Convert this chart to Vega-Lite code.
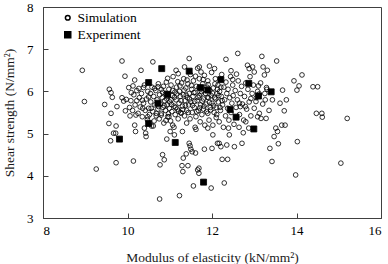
{
  "$schema": "https://vega.github.io/schema/vega-lite/v6.json",
  "width": 338,
  "height": 211,
  "autosize": {"type": "none"},
  "padding": {"left": 43, "top": 7, "right": 7, "bottom": 46},
  "background": "white",
  "config": {
    "view": {"stroke": "#404040", "strokeWidth": 1},
    "font": "Times New Roman, Liberation Serif, serif",
    "axis": {
      "labelFont": "Times New Roman, Liberation Serif, serif",
      "titleFont": "Times New Roman, Liberation Serif, serif",
      "labelFontSize": 13,
      "titleFontSize": 13.5,
      "titleFontWeight": "normal",
      "labelColor": "#000",
      "titleColor": "#1a1a1a",
      "domainColor": "#404040",
      "tickColor": "#404040",
      "grid": false,
      "tickSize": -5
    },
    "legend": {
      "labelFont": "Times New Roman, Liberation Serif, serif",
      "labelFontSize": 13.5,
      "labelColor": "#000"
    }
  },
  "data": {
    "values": [
      {"moe": 8.93, "shear": 6.50, "type": "Simulation"},
      {"moe": 8.98, "shear": 5.76, "type": "Simulation"},
      {"moe": 9.26, "shear": 4.16, "type": "Simulation"},
      {"moe": 9.46, "shear": 5.69, "type": "Simulation"},
      {"moe": 9.56, "shear": 5.24, "type": "Simulation"},
      {"moe": 9.57, "shear": 6.05, "type": "Simulation"},
      {"moe": 9.61, "shear": 5.97, "type": "Simulation"},
      {"moe": 9.64, "shear": 5.86, "type": "Simulation"},
      {"moe": 9.60, "shear": 4.83, "type": "Simulation"},
      {"moe": 9.61, "shear": 5.48, "type": "Simulation"},
      {"moe": 9.67, "shear": 5.01, "type": "Simulation"},
      {"moe": 9.72, "shear": 5.01, "type": "Simulation"},
      {"moe": 9.73, "shear": 5.18, "type": "Simulation"},
      {"moe": 9.73, "shear": 4.31, "type": "Simulation"},
      {"moe": 9.75, "shear": 5.64, "type": "Simulation"},
      {"moe": 9.87, "shear": 6.72, "type": "Simulation"},
      {"moe": 9.87, "shear": 5.85, "type": "Simulation"},
      {"moe": 9.91, "shear": 5.77, "type": "Simulation"},
      {"moe": 9.95, "shear": 5.54, "type": "Simulation"},
      {"moe": 9.94, "shear": 6.36, "type": "Simulation"},
      {"moe": 9.97, "shear": 5.81, "type": "Simulation"},
      {"moe": 10.03, "shear": 6.09, "type": "Simulation"},
      {"moe": 10.06, "shear": 5.42, "type": "Simulation"},
      {"moe": 10.09, "shear": 5.97, "type": "Simulation"},
      {"moe": 10.13, "shear": 6.13, "type": "Simulation"},
      {"moe": 10.14, "shear": 4.35, "type": "Simulation"},
      {"moe": 10.17, "shear": 5.20, "type": "Simulation"},
      {"moe": 10.19, "shear": 5.05, "type": "Simulation"},
      {"moe": 10.17, "shear": 6.27, "type": "Simulation"},
      {"moe": 10.20, "shear": 5.44, "type": "Simulation"},
      {"moe": 10.22, "shear": 5.78, "type": "Simulation"},
      {"moe": 10.27, "shear": 6.07, "type": "Simulation"},
      {"moe": 10.32, "shear": 6.50, "type": "Simulation"},
      {"moe": 10.35, "shear": 5.79, "type": "Simulation"},
      {"moe": 10.36, "shear": 5.60, "type": "Simulation"},
      {"moe": 10.38, "shear": 6.09, "type": "Simulation"},
      {"moe": 10.40, "shear": 5.13, "type": "Simulation"},
      {"moe": 10.43, "shear": 5.01, "type": "Simulation"},
      {"moe": 10.44, "shear": 4.93, "type": "Simulation"},
      {"moe": 10.48, "shear": 5.40, "type": "Simulation"},
      {"moe": 10.50, "shear": 5.87, "type": "Simulation"},
      {"moe": 10.56, "shear": 5.60, "type": "Simulation"},
      {"moe": 10.60, "shear": 6.70, "type": "Simulation"},
      {"moe": 10.61, "shear": 5.18, "type": "Simulation"},
      {"moe": 10.64, "shear": 6.07, "type": "Simulation"},
      {"moe": 10.68, "shear": 5.48, "type": "Simulation"},
      {"moe": 10.72, "shear": 6.11, "type": "Simulation"},
      {"moe": 10.74, "shear": 5.64, "type": "Simulation"},
      {"moe": 10.76, "shear": 3.45, "type": "Simulation"},
      {"moe": 10.77, "shear": 4.26, "type": "Simulation"},
      {"moe": 10.80, "shear": 5.44, "type": "Simulation"},
      {"moe": 10.83, "shear": 4.50, "type": "Simulation"},
      {"moe": 10.87, "shear": 4.38, "type": "Simulation"},
      {"moe": 10.91, "shear": 5.31, "type": "Simulation"},
      {"moe": 10.93, "shear": 4.87, "type": "Simulation"},
      {"moe": 10.95, "shear": 6.31, "type": "Simulation"},
      {"moe": 10.98, "shear": 5.40, "type": "Simulation"},
      {"moe": 11.01, "shear": 5.05, "type": "Simulation"},
      {"moe": 11.03, "shear": 5.80, "type": "Simulation"},
      {"moe": 11.07, "shear": 5.20, "type": "Simulation"},
      {"moe": 11.11, "shear": 4.97, "type": "Simulation"},
      {"moe": 11.15, "shear": 6.50, "type": "Simulation"},
      {"moe": 11.19, "shear": 6.23, "type": "Simulation"},
      {"moe": 11.23, "shear": 3.53, "type": "Simulation"},
      {"moe": 11.27, "shear": 5.48, "type": "Simulation"},
      {"moe": 11.29, "shear": 4.24, "type": "Simulation"},
      {"moe": 11.31, "shear": 4.10, "type": "Simulation"},
      {"moe": 11.32, "shear": 4.42, "type": "Simulation"},
      {"moe": 11.35, "shear": 6.58, "type": "Simulation"},
      {"moe": 11.39, "shear": 4.52, "type": "Simulation"},
      {"moe": 11.43, "shear": 4.24, "type": "Simulation"},
      {"moe": 11.46, "shear": 6.78, "type": "Simulation"},
      {"moe": 11.46, "shear": 4.77, "type": "Simulation"},
      {"moe": 11.48, "shear": 4.71, "type": "Simulation"},
      {"moe": 11.50, "shear": 4.63, "type": "Simulation"},
      {"moe": 11.53, "shear": 4.57, "type": "Simulation"},
      {"moe": 11.56, "shear": 3.76, "type": "Simulation"},
      {"moe": 11.61, "shear": 4.54, "type": "Simulation"},
      {"moe": 11.62, "shear": 5.10, "type": "Simulation"},
      {"moe": 11.66, "shear": 4.14, "type": "Simulation"},
      {"moe": 11.69, "shear": 4.06, "type": "Simulation"},
      {"moe": 11.69, "shear": 4.18, "type": "Simulation"},
      {"moe": 11.70, "shear": 6.58, "type": "Simulation"},
      {"moe": 11.74, "shear": 6.46, "type": "Simulation"},
      {"moe": 11.82, "shear": 4.63, "type": "Simulation"},
      {"moe": 11.90, "shear": 5.13, "type": "Simulation"},
      {"moe": 11.94, "shear": 6.60, "type": "Simulation"},
      {"moe": 11.98, "shear": 3.71, "type": "Simulation"},
      {"moe": 12.00, "shear": 4.65, "type": "Simulation"},
      {"moe": 12.02, "shear": 4.97, "type": "Simulation"},
      {"moe": 12.06, "shear": 6.54, "type": "Simulation"},
      {"moe": 12.13, "shear": 4.77, "type": "Simulation"},
      {"moe": 12.17, "shear": 4.77, "type": "Simulation"},
      {"moe": 12.21, "shear": 4.69, "type": "Simulation"},
      {"moe": 12.24, "shear": 4.39, "type": "Simulation"},
      {"moe": 12.29, "shear": 3.83, "type": "Simulation"},
      {"moe": 12.33, "shear": 6.76, "type": "Simulation"},
      {"moe": 12.35, "shear": 4.73, "type": "Simulation"},
      {"moe": 12.37, "shear": 4.39, "type": "Simulation"},
      {"moe": 12.39, "shear": 5.13, "type": "Simulation"},
      {"moe": 12.41, "shear": 4.97, "type": "Simulation"},
      {"moe": 12.45, "shear": 6.49, "type": "Simulation"},
      {"moe": 12.49, "shear": 6.28, "type": "Simulation"},
      {"moe": 12.53, "shear": 4.69, "type": "Simulation"},
      {"moe": 12.58, "shear": 6.41, "type": "Simulation"},
      {"moe": 12.61, "shear": 6.90, "type": "Simulation"},
      {"moe": 12.64, "shear": 5.15, "type": "Simulation"},
      {"moe": 12.65, "shear": 5.72, "type": "Simulation"},
      {"moe": 12.67, "shear": 5.64, "type": "Simulation"},
      {"moe": 12.71, "shear": 4.77, "type": "Simulation"},
      {"moe": 12.74, "shear": 5.02, "type": "Simulation"},
      {"moe": 12.79, "shear": 5.64, "type": "Simulation"},
      {"moe": 12.80, "shear": 5.28, "type": "Simulation"},
      {"moe": 12.84, "shear": 6.62, "type": "Simulation"},
      {"moe": 12.87, "shear": 5.13, "type": "Simulation"},
      {"moe": 12.88, "shear": 6.54, "type": "Simulation"},
      {"moe": 12.92, "shear": 5.83, "type": "Simulation"},
      {"moe": 12.96, "shear": 6.58, "type": "Simulation"},
      {"moe": 13.00, "shear": 6.46, "type": "Simulation"},
      {"moe": 13.04, "shear": 5.76, "type": "Simulation"},
      {"moe": 13.08, "shear": 5.40, "type": "Simulation"},
      {"moe": 13.10, "shear": 6.13, "type": "Simulation"},
      {"moe": 13.12, "shear": 5.94, "type": "Simulation"},
      {"moe": 13.16, "shear": 5.36, "type": "Simulation"},
      {"moe": 13.18, "shear": 6.83, "type": "Simulation"},
      {"moe": 13.21, "shear": 6.58, "type": "Simulation"},
      {"moe": 13.24, "shear": 6.39, "type": "Simulation"},
      {"moe": 13.26, "shear": 5.80, "type": "Simulation"},
      {"moe": 13.28, "shear": 5.36, "type": "Simulation"},
      {"moe": 13.29, "shear": 6.09, "type": "Simulation"},
      {"moe": 13.31, "shear": 6.50, "type": "Simulation"},
      {"moe": 13.37, "shear": 4.65, "type": "Simulation"},
      {"moe": 13.42, "shear": 4.34, "type": "Simulation"},
      {"moe": 13.43, "shear": 5.80, "type": "Simulation"},
      {"moe": 13.47, "shear": 4.93, "type": "Simulation"},
      {"moe": 13.51, "shear": 5.13, "type": "Simulation"},
      {"moe": 13.53, "shear": 6.72, "type": "Simulation"},
      {"moe": 13.55, "shear": 5.05, "type": "Simulation"},
      {"moe": 13.57, "shear": 4.76, "type": "Simulation"},
      {"moe": 13.61, "shear": 5.72, "type": "Simulation"},
      {"moe": 13.65, "shear": 5.20, "type": "Simulation"},
      {"moe": 13.67, "shear": 6.03, "type": "Simulation"},
      {"moe": 13.71, "shear": 5.54, "type": "Simulation"},
      {"moe": 13.73, "shear": 5.20, "type": "Simulation"},
      {"moe": 13.76, "shear": 5.80, "type": "Simulation"},
      {"moe": 13.94, "shear": 6.25, "type": "Simulation"},
      {"moe": 13.98, "shear": 4.02, "type": "Simulation"},
      {"moe": 14.01, "shear": 6.03, "type": "Simulation"},
      {"moe": 14.02, "shear": 4.81, "type": "Simulation"},
      {"moe": 14.06, "shear": 6.13, "type": "Simulation"},
      {"moe": 14.13, "shear": 6.39, "type": "Simulation"},
      {"moe": 14.39, "shear": 6.11, "type": "Simulation"},
      {"moe": 14.50, "shear": 6.11, "type": "Simulation"},
      {"moe": 14.47, "shear": 5.48, "type": "Simulation"},
      {"moe": 14.60, "shear": 5.48, "type": "Simulation"},
      {"moe": 14.61, "shear": 5.39, "type": "Simulation"},
      {"moe": 15.05, "shear": 4.30, "type": "Simulation"},
      {"moe": 15.20, "shear": 5.36, "type": "Simulation"},
      {"moe": 10.05, "shear": 5.62, "type": "Simulation"},
      {"moe": 10.08, "shear": 5.78, "type": "Simulation"},
      {"moe": 10.12, "shear": 5.55, "type": "Simulation"},
      {"moe": 10.15, "shear": 5.92, "type": "Simulation"},
      {"moe": 10.18, "shear": 5.68, "type": "Simulation"},
      {"moe": 10.22, "shear": 6.02, "type": "Simulation"},
      {"moe": 10.25, "shear": 5.48, "type": "Simulation"},
      {"moe": 10.28, "shear": 5.85, "type": "Simulation"},
      {"moe": 10.30, "shear": 5.63, "type": "Simulation"},
      {"moe": 10.33, "shear": 5.95, "type": "Simulation"},
      {"moe": 10.35, "shear": 5.40, "type": "Simulation"},
      {"moe": 10.38, "shear": 5.72, "type": "Simulation"},
      {"moe": 10.40, "shear": 6.15, "type": "Simulation"},
      {"moe": 10.42, "shear": 5.55, "type": "Simulation"},
      {"moe": 10.45, "shear": 5.82, "type": "Simulation"},
      {"moe": 10.47, "shear": 5.33, "type": "Simulation"},
      {"moe": 10.48, "shear": 6.00, "type": "Simulation"},
      {"moe": 10.50, "shear": 5.60, "type": "Simulation"},
      {"moe": 10.52, "shear": 5.45, "type": "Simulation"},
      {"moe": 10.54, "shear": 5.95, "type": "Simulation"},
      {"moe": 10.55, "shear": 5.75, "type": "Simulation"},
      {"moe": 10.57, "shear": 5.18, "type": "Simulation"},
      {"moe": 10.58, "shear": 6.10, "type": "Simulation"},
      {"moe": 10.60, "shear": 5.52, "type": "Simulation"},
      {"moe": 10.62, "shear": 5.88, "type": "Simulation"},
      {"moe": 10.63, "shear": 5.30, "type": "Simulation"},
      {"moe": 10.65, "shear": 5.68, "type": "Simulation"},
      {"moe": 10.67, "shear": 6.02, "type": "Simulation"},
      {"moe": 10.68, "shear": 5.42, "type": "Simulation"},
      {"moe": 10.70, "shear": 5.80, "type": "Simulation"},
      {"moe": 10.72, "shear": 5.58, "type": "Simulation"},
      {"moe": 10.73, "shear": 6.18, "type": "Simulation"},
      {"moe": 10.75, "shear": 5.35, "type": "Simulation"},
      {"moe": 10.76, "shear": 5.92, "type": "Simulation"},
      {"moe": 10.78, "shear": 5.70, "type": "Simulation"},
      {"moe": 10.80, "shear": 6.05, "type": "Simulation"},
      {"moe": 10.80, "shear": 5.48, "type": "Simulation"},
      {"moe": 10.82, "shear": 5.85, "type": "Simulation"},
      {"moe": 10.84, "shear": 5.62, "type": "Simulation"},
      {"moe": 10.85, "shear": 6.12, "type": "Simulation"},
      {"moe": 10.86, "shear": 5.25, "type": "Simulation"},
      {"moe": 10.88, "shear": 5.78, "type": "Simulation"},
      {"moe": 10.90, "shear": 5.95, "type": "Simulation"},
      {"moe": 10.90, "shear": 5.55, "type": "Simulation"},
      {"moe": 10.92, "shear": 6.22, "type": "Simulation"},
      {"moe": 10.94, "shear": 5.68, "type": "Simulation"},
      {"moe": 10.95, "shear": 5.40, "type": "Simulation"},
      {"moe": 10.96, "shear": 5.88, "type": "Simulation"},
      {"moe": 10.98, "shear": 6.05, "type": "Simulation"},
      {"moe": 10.99, "shear": 5.60, "type": "Simulation"},
      {"moe": 11.00, "shear": 5.75, "type": "Simulation"},
      {"moe": 11.02, "shear": 5.30, "type": "Simulation"},
      {"moe": 11.03, "shear": 6.15, "type": "Simulation"},
      {"moe": 11.05, "shear": 5.52, "type": "Simulation"},
      {"moe": 11.06, "shear": 5.90, "type": "Simulation"},
      {"moe": 11.08, "shear": 6.35, "type": "Simulation"},
      {"moe": 11.10, "shear": 5.65, "type": "Simulation"},
      {"moe": 11.10, "shear": 5.15, "type": "Simulation"},
      {"moe": 11.12, "shear": 5.98, "type": "Simulation"},
      {"moe": 11.13, "shear": 5.45, "type": "Simulation"},
      {"moe": 11.15, "shear": 5.80, "type": "Simulation"},
      {"moe": 11.16, "shear": 6.10, "type": "Simulation"},
      {"moe": 11.18, "shear": 5.58, "type": "Simulation"},
      {"moe": 11.20, "shear": 6.42, "type": "Simulation"},
      {"moe": 11.20, "shear": 5.35, "type": "Simulation"},
      {"moe": 11.22, "shear": 5.72, "type": "Simulation"},
      {"moe": 11.23, "shear": 6.00, "type": "Simulation"},
      {"moe": 11.25, "shear": 5.88, "type": "Simulation"},
      {"moe": 11.26, "shear": 5.50, "type": "Simulation"},
      {"moe": 11.28, "shear": 6.20, "type": "Simulation"},
      {"moe": 11.30, "shear": 5.65, "type": "Simulation"},
      {"moe": 11.30, "shear": 5.05, "type": "Simulation"},
      {"moe": 11.32, "shear": 5.92, "type": "Simulation"},
      {"moe": 11.33, "shear": 6.30, "type": "Simulation"},
      {"moe": 11.35, "shear": 5.42, "type": "Simulation"},
      {"moe": 11.36, "shear": 5.78, "type": "Simulation"},
      {"moe": 11.38, "shear": 6.08, "type": "Simulation"},
      {"moe": 11.40, "shear": 5.55, "type": "Simulation"},
      {"moe": 11.40, "shear": 5.25, "type": "Simulation"},
      {"moe": 11.42, "shear": 5.85, "type": "Simulation"},
      {"moe": 11.43, "shear": 6.18, "type": "Simulation"},
      {"moe": 11.45, "shear": 5.68, "type": "Simulation"},
      {"moe": 11.46, "shear": 5.95, "type": "Simulation"},
      {"moe": 11.48, "shear": 5.35, "type": "Simulation"},
      {"moe": 11.49, "shear": 6.40, "type": "Simulation"},
      {"moe": 11.50, "shear": 5.75, "type": "Simulation"},
      {"moe": 11.52, "shear": 6.05, "type": "Simulation"},
      {"moe": 11.53, "shear": 5.50, "type": "Simulation"},
      {"moe": 11.55, "shear": 5.88, "type": "Simulation"},
      {"moe": 11.56, "shear": 6.25, "type": "Simulation"},
      {"moe": 11.58, "shear": 5.62, "type": "Simulation"},
      {"moe": 11.60, "shear": 5.15, "type": "Simulation"},
      {"moe": 11.60, "shear": 5.98, "type": "Simulation"},
      {"moe": 11.62, "shear": 5.40, "type": "Simulation"},
      {"moe": 11.63, "shear": 6.12, "type": "Simulation"},
      {"moe": 11.65, "shear": 5.78, "type": "Simulation"},
      {"moe": 11.66, "shear": 6.55, "type": "Simulation"},
      {"moe": 11.68, "shear": 5.55, "type": "Simulation"},
      {"moe": 11.70, "shear": 5.90, "type": "Simulation"},
      {"moe": 11.70, "shear": 6.30, "type": "Simulation"},
      {"moe": 11.72, "shear": 5.28, "type": "Simulation"},
      {"moe": 11.73, "shear": 5.68, "type": "Simulation"},
      {"moe": 11.75, "shear": 6.00, "type": "Simulation"},
      {"moe": 11.76, "shear": 5.45, "type": "Simulation"},
      {"moe": 11.78, "shear": 6.18, "type": "Simulation"},
      {"moe": 11.80, "shear": 5.82, "type": "Simulation"},
      {"moe": 11.80, "shear": 5.58, "type": "Simulation"},
      {"moe": 11.82, "shear": 6.38, "type": "Simulation"},
      {"moe": 11.83, "shear": 5.20, "type": "Simulation"},
      {"moe": 11.85, "shear": 5.95, "type": "Simulation"},
      {"moe": 11.86, "shear": 5.70, "type": "Simulation"},
      {"moe": 11.88, "shear": 6.10, "type": "Simulation"},
      {"moe": 11.90, "shear": 5.48, "type": "Simulation"},
      {"moe": 11.90, "shear": 6.25, "type": "Simulation"},
      {"moe": 11.92, "shear": 5.85, "type": "Simulation"},
      {"moe": 11.93, "shear": 5.32, "type": "Simulation"},
      {"moe": 11.95, "shear": 6.02, "type": "Simulation"},
      {"moe": 11.96, "shear": 5.62, "type": "Simulation"},
      {"moe": 11.98, "shear": 5.90, "type": "Simulation"},
      {"moe": 11.99, "shear": 6.45, "type": "Simulation"},
      {"moe": 12.00, "shear": 5.72, "type": "Simulation"},
      {"moe": 12.02, "shear": 5.20, "type": "Simulation"},
      {"moe": 12.03, "shear": 6.08, "type": "Simulation"},
      {"moe": 12.05, "shear": 5.50, "type": "Simulation"},
      {"moe": 12.06, "shear": 5.85, "type": "Simulation"},
      {"moe": 12.08, "shear": 6.30, "type": "Simulation"},
      {"moe": 12.10, "shear": 5.62, "type": "Simulation"},
      {"moe": 12.10, "shear": 5.38, "type": "Simulation"},
      {"moe": 12.12, "shear": 5.95, "type": "Simulation"},
      {"moe": 12.14, "shear": 6.15, "type": "Simulation"},
      {"moe": 12.15, "shear": 5.75, "type": "Simulation"},
      {"moe": 12.17, "shear": 5.28, "type": "Simulation"},
      {"moe": 12.18, "shear": 6.00, "type": "Simulation"},
      {"moe": 12.20, "shear": 5.55, "type": "Simulation"},
      {"moe": 12.22, "shear": 5.88, "type": "Simulation"},
      {"moe": 12.23, "shear": 6.40, "type": "Simulation"},
      {"moe": 12.25, "shear": 5.68, "type": "Simulation"},
      {"moe": 12.27, "shear": 5.15, "type": "Simulation"},
      {"moe": 12.28, "shear": 6.10, "type": "Simulation"},
      {"moe": 12.30, "shear": 5.80, "type": "Simulation"},
      {"moe": 12.32, "shear": 5.42, "type": "Simulation"},
      {"moe": 12.33, "shear": 6.22, "type": "Simulation"},
      {"moe": 12.35, "shear": 5.95, "type": "Simulation"},
      {"moe": 12.37, "shear": 5.60, "type": "Simulation"},
      {"moe": 12.38, "shear": 6.05, "type": "Simulation"},
      {"moe": 12.40, "shear": 5.32, "type": "Simulation"},
      {"moe": 12.42, "shear": 5.85, "type": "Simulation"},
      {"moe": 12.44, "shear": 6.35, "type": "Simulation"},
      {"moe": 12.45, "shear": 5.50, "type": "Simulation"},
      {"moe": 12.47, "shear": 5.72, "type": "Simulation"},
      {"moe": 12.49, "shear": 6.15, "type": "Simulation"},
      {"moe": 12.50, "shear": 5.90, "type": "Simulation"},
      {"moe": 12.52, "shear": 5.22, "type": "Simulation"},
      {"moe": 12.55, "shear": 6.02, "type": "Simulation"},
      {"moe": 12.57, "shear": 5.62, "type": "Simulation"},
      {"moe": 12.60, "shear": 5.80, "type": "Simulation"},
      {"moe": 12.62, "shear": 6.25, "type": "Simulation"},
      {"moe": 12.65, "shear": 5.45, "type": "Simulation"},
      {"moe": 12.67, "shear": 5.95, "type": "Simulation"},
      {"moe": 12.70, "shear": 6.12, "type": "Simulation"},
      {"moe": 12.72, "shear": 5.70, "type": "Simulation"},
      {"moe": 12.75, "shear": 5.32, "type": "Simulation"},
      {"moe": 12.77, "shear": 5.88, "type": "Simulation"},
      {"moe": 12.80, "shear": 6.20, "type": "Simulation"},
      {"moe": 12.82, "shear": 5.58, "type": "Simulation"},
      {"moe": 12.85, "shear": 6.05, "type": "Simulation"},
      {"moe": 12.88, "shear": 5.75, "type": "Simulation"},
      {"moe": 12.90, "shear": 6.35, "type": "Simulation"},
      {"moe": 12.92, "shear": 5.42, "type": "Simulation"},
      {"moe": 12.95, "shear": 5.95, "type": "Simulation"},
      {"moe": 12.98, "shear": 6.15, "type": "Simulation"},
      {"moe": 13.00, "shear": 5.60, "type": "Simulation"},
      {"moe": 13.05, "shear": 5.85, "type": "Simulation"},
      {"moe": 13.08, "shear": 6.00, "type": "Simulation"},
      {"moe": 13.12, "shear": 5.48, "type": "Simulation"},
      {"moe": 13.15, "shear": 6.20, "type": "Simulation"},
      {"moe": 13.20, "shear": 5.70, "type": "Simulation"},
      {"moe": 13.25, "shear": 5.95, "type": "Simulation"},
      {"moe": 13.30, "shear": 6.05, "type": "Simulation"},
      {"moe": 13.35, "shear": 5.55, "type": "Simulation"},
      {"moe": 10.83, "shear": 5.98, "type": "Simulation"},
      {"moe": 10.87, "shear": 5.66, "type": "Simulation"},
      {"moe": 10.93, "shear": 5.82, "type": "Simulation"},
      {"moe": 10.97, "shear": 5.47, "type": "Simulation"},
      {"moe": 11.04, "shear": 5.69, "type": "Simulation"},
      {"moe": 11.07, "shear": 6.02, "type": "Simulation"},
      {"moe": 11.11, "shear": 5.86, "type": "Simulation"},
      {"moe": 11.14, "shear": 5.62, "type": "Simulation"},
      {"moe": 11.17, "shear": 5.94, "type": "Simulation"},
      {"moe": 11.21, "shear": 5.53, "type": "Simulation"},
      {"moe": 11.24, "shear": 6.13, "type": "Simulation"},
      {"moe": 11.27, "shear": 5.78, "type": "Simulation"},
      {"moe": 11.31, "shear": 5.57, "type": "Simulation"},
      {"moe": 11.34, "shear": 6.03, "type": "Simulation"},
      {"moe": 11.37, "shear": 5.67, "type": "Simulation"},
      {"moe": 11.39, "shear": 5.91, "type": "Simulation"},
      {"moe": 11.41, "shear": 6.27, "type": "Simulation"},
      {"moe": 11.44, "shear": 5.50, "type": "Simulation"},
      {"moe": 11.47, "shear": 5.82, "type": "Simulation"},
      {"moe": 11.51, "shear": 6.14, "type": "Simulation"},
      {"moe": 11.54, "shear": 5.67, "type": "Simulation"},
      {"moe": 11.57, "shear": 5.97, "type": "Simulation"},
      {"moe": 11.59, "shear": 5.76, "type": "Simulation"},
      {"moe": 11.61, "shear": 6.36, "type": "Simulation"},
      {"moe": 11.64, "shear": 5.52, "type": "Simulation"},
      {"moe": 11.67, "shear": 5.86, "type": "Simulation"},
      {"moe": 11.69, "shear": 6.09, "type": "Simulation"},
      {"moe": 11.71, "shear": 5.61, "type": "Simulation"},
      {"moe": 11.74, "shear": 5.94, "type": "Simulation"},
      {"moe": 11.77, "shear": 5.77, "type": "Simulation"},
      {"moe": 11.79, "shear": 6.28, "type": "Simulation"},
      {"moe": 11.81, "shear": 5.65, "type": "Simulation"},
      {"moe": 11.84, "shear": 6.04, "type": "Simulation"},
      {"moe": 11.87, "shear": 5.52, "type": "Simulation"},
      {"moe": 11.89, "shear": 5.86, "type": "Simulation"},
      {"moe": 11.91, "shear": 6.16, "type": "Simulation"},
      {"moe": 11.94, "shear": 5.74, "type": "Simulation"},
      {"moe": 11.97, "shear": 5.56, "type": "Simulation"},
      {"moe": 12.01, "shear": 5.96, "type": "Simulation"},
      {"moe": 12.04, "shear": 5.66, "type": "Simulation"},
      {"moe": 12.07, "shear": 6.18, "type": "Simulation"},
      {"moe": 12.09, "shear": 5.82, "type": "Simulation"},
      {"moe": 12.11, "shear": 5.45, "type": "Simulation"},
      {"moe": 12.13, "shear": 6.05, "type": "Simulation"},
      {"moe": 12.16, "shear": 5.90, "type": "Simulation"},
      {"moe": 12.19, "shear": 5.62, "type": "Simulation"},
      {"moe": 12.21, "shear": 6.10, "type": "Simulation"},
      {"moe": 12.24, "shear": 5.78, "type": "Simulation"},
      {"moe": 9.81, "shear": 4.87, "type": "Experiment"},
      {"moe": 10.50, "shear": 6.21, "type": "Experiment"},
      {"moe": 10.50, "shear": 5.24, "type": "Experiment"},
      {"moe": 10.72, "shear": 5.72, "type": "Experiment"},
      {"moe": 10.81, "shear": 6.54, "type": "Experiment"},
      {"moe": 10.95, "shear": 5.93, "type": "Experiment"},
      {"moe": 11.13, "shear": 4.79, "type": "Experiment"},
      {"moe": 11.46, "shear": 6.48, "type": "Experiment"},
      {"moe": 11.73, "shear": 6.09, "type": "Experiment"},
      {"moe": 11.80, "shear": 3.85, "type": "Experiment"},
      {"moe": 11.90, "shear": 6.03, "type": "Experiment"},
      {"moe": 12.21, "shear": 6.28, "type": "Experiment"},
      {"moe": 12.43, "shear": 5.57, "type": "Experiment"},
      {"moe": 12.57, "shear": 5.39, "type": "Experiment"},
      {"moe": 12.87, "shear": 6.19, "type": "Experiment"},
      {"moe": 12.99, "shear": 5.11, "type": "Experiment"},
      {"moe": 13.10, "shear": 5.89, "type": "Experiment"},
      {"moe": 13.40, "shear": 5.99, "type": "Experiment"}
    ]
  },
  "mark": {"type": "point", "stroke": "#000", "strokeWidth": 0.8, "opacity": 1},
  "encoding": {
    "x": {
      "field": "moe",
      "type": "quantitative",
      "scale": {"domain": [8, 16], "nice": false, "zero": false},
      "axis": {"values": [8, 10, 12, 14, 16], "title": "Modulus of elasticity (kN/mm²)", "labelPadding": 11, "titlePadding": 13}
    },
    "y": {
      "field": "shear",
      "type": "quantitative",
      "scale": {"domain": [3, 8], "nice": false, "zero": false},
      "axis": {"values": [3, 4, 5, 6, 7, 8], "title": "Shear strength (N/mm²)", "labelPadding": 15, "titlePadding": 10}
    },
    "shape": {
      "field": "type",
      "type": "nominal",
      "sort": ["Simulation", "Experiment"],
      "scale": {"domain": ["Simulation", "Experiment"], "range": ["circle", "square"]},
      "legend": {"title": null, "orient": "none", "legendX": 18, "legendY": 4, "padding": 0, "rowPadding": 2, "labelOffset": 3, "symbolStrokeColor": "#000"}
    },
    "fill": {
      "field": "type",
      "type": "nominal",
      "scale": {"domain": ["Simulation", "Experiment"], "range": ["transparent", "#000"]},
      "legend": {"title": null, "orient": "none", "legendX": 18, "legendY": 4, "padding": 0, "rowPadding": 2, "labelOffset": 3}
    },
    "size": {
      "field": "type",
      "type": "nominal",
      "scale": {"domain": ["Simulation", "Experiment"], "range": [22, 36]},
      "legend": {"title": null, "orient": "none", "legendX": 18, "legendY": 4, "padding": 0, "rowPadding": 2, "labelOffset": 3}
    },
    "order": {"field": "type", "type": "nominal", "sort": "descending"}
  }
}
